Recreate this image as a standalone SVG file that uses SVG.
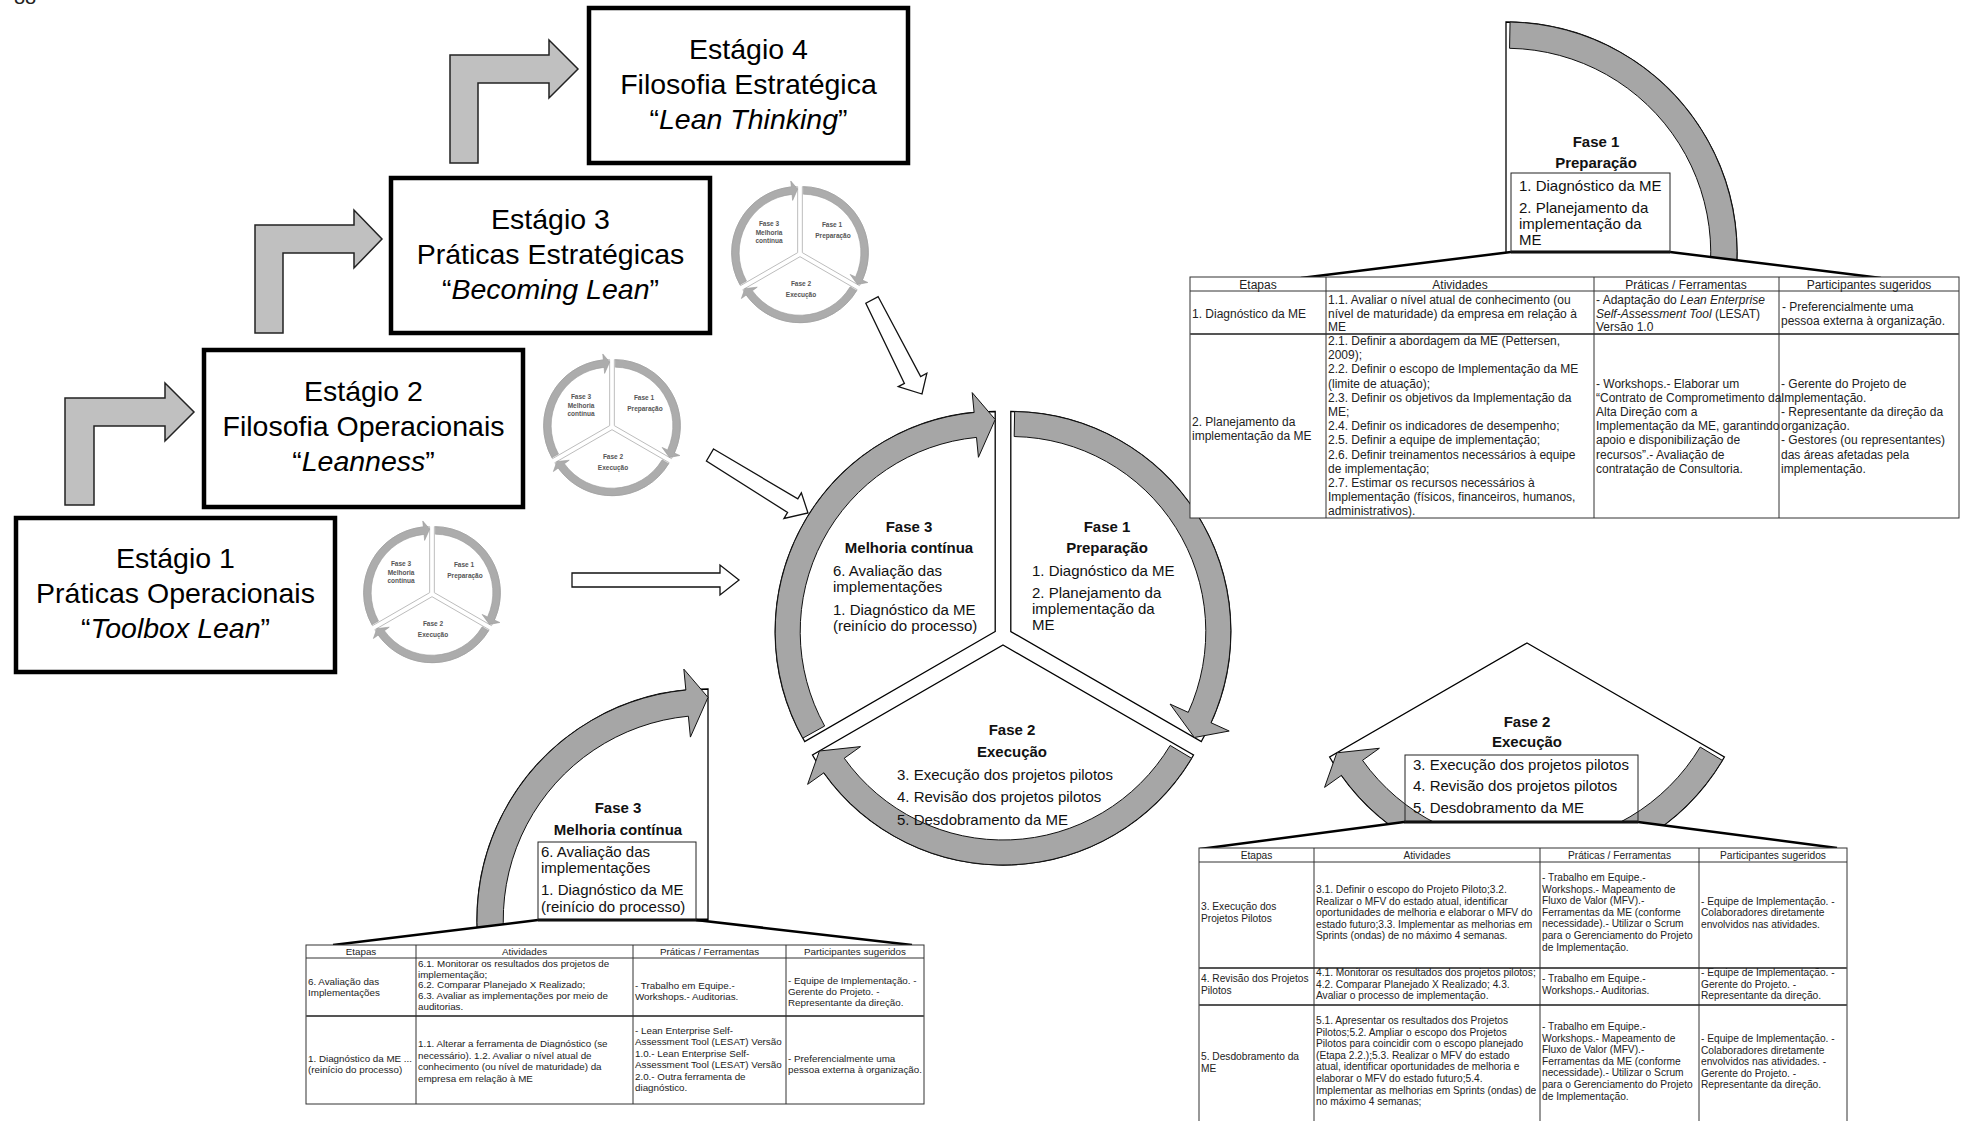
<svg xmlns="http://www.w3.org/2000/svg" xmlns:xlink="http://www.w3.org/1999/xlink" width="1966" height="1121" viewBox="0 0 1966 1121">
<style>
  text { font-family: "Liberation Sans", Arial, sans-serif; }
  .stg { fill: #fff; stroke: #000; stroke-width: 4.5; }
  .stgT { font-size: 28.5px; text-anchor: middle; fill: #000; }
  .bent { fill: #c0c0c0; stroke: #222; stroke-width: 1.5; stroke-linejoin: miter; }
  .hollow { fill: #fff; stroke: #111; stroke-width: 1.3; }
  .pie { fill: #fff; stroke: #000; stroke-width: 1.3; }
  .ring { fill: #a6a6a6; stroke: #111; stroke-width: 1; }
  .spie { fill: #fff; stroke: #bdbdbd; stroke-width: 1; }
  .sring { fill: #acacac; stroke: #9a9a9a; stroke-width: 0.6; }
  .ph { font-size: 15px; font-weight: bold; text-anchor: middle; fill: #111; }
  .pt { font-size: 15px; fill: #111; }
  .sm { font-size: 6.5px; font-weight: bold; text-anchor: middle; fill: #555; }
  .roof { fill: none; stroke: #000; stroke-width: 2.5; stroke-linejoin: round; }
  .rooft { fill: none; stroke: #000; stroke-width: 3.2; }
  .box { fill: none; stroke: #222; stroke-width: 1; }
  .tb { fill: #fff; stroke: #333; stroke-width: 1; }
  .tl { stroke: #333; stroke-width: 1; }
  .tlr { stroke: #555; stroke-width: 2; }
  .t1 { font-size: 12px; fill: #222; }
  .t2 { font-size: 10.2px; fill: #222; }
  .t3 { font-size: 9.8px; fill: #222; }
  .mid { text-anchor: middle; }
  .it { font-style: italic; }
</style>
<defs>
  <!-- cycle segments in vertex-local coordinates (outer radius 220, inner 195) -->
  <path id="pie1" vector-effect="non-scaling-stroke" d="M0,0 L0,-220 A220,220 0 0 1 190.53,110 Z"/>
  <path id="arr1" vector-effect="non-scaling-stroke" d="M3.84,-219.97 A220,220 0 0 1 200.19,91.23 L218.39,99.53 L183.6,106 L159.24,72.57 L177.44,80.87 A195,195 0 0 0 3.4,-194.97 Z"/>
  <path id="pie2" vector-effect="non-scaling-stroke" d="M0,0 L190.53,110 A220,220 0 0 1 -190.53,110 Z"/>
  <path id="arr2" vector-effect="non-scaling-stroke" d="M188.58,113.31 A220,220 0 0 1 -179.11,127.76 L-195.39,139.37 L-183.6,106 L-142.47,101.62 L-158.75,113.24 A195,195 0 0 0 167.15,100.43 Z"/>
  <path id="pie3" vector-effect="non-scaling-stroke" d="M0,0 L-190.53,110 A220,220 0 0 1 0,-220 Z"/>
  <path id="arr3" vector-effect="non-scaling-stroke" d="M-192.42,106.66 A220,220 0 0 1 -21.09,-218.99 L-23,-238.9 L0,-212 L-16.77,-174.19 L-18.69,-194.1 A195,195 0 0 0 -170.55,94.54 Z"/>
  <clipPath id="clipTR"><polygon points="1180,0 1966,0 1966,278 1881,278 1670,252 1511,252 1301,278 1180,278"/></clipPath>
  <clipPath id="clipBR"><polygon points="1150,600 1966,600 1966,848 1837,848 1638,822 1404,822 1200,849 1150,849"/></clipPath>
  <clipPath id="clipBL"><polygon points="300,640 960,640 960,945 912,945 696,920 538,920 333,945 300,945"/></clipPath>
</defs>

<!-- page number, mostly above the page edge -->
<text x="14" y="4" style="font-size:20px;fill:#222">88</text>

<!-- maturity stages -->
<g id="stage4">
  <rect class="stg" x="589" y="8" width="319" height="155"/>
  <text class="stgT" x="748.5" y="59">Estágio 4</text>
  <text class="stgT" x="748.5" y="94">Filosofia Estratégica</text>
  <text class="stgT" x="748.5" y="129">“<tspan class="it">Lean Thinking</tspan>”</text>
</g>
<g id="stage3">
  <rect class="stg" x="391" y="178" width="319" height="155"/>
  <text class="stgT" x="550.5" y="229">Estágio 3</text>
  <text class="stgT" x="550.5" y="264">Práticas Estratégicas</text>
  <text class="stgT" x="550.5" y="299">“<tspan class="it">Becoming Lean</tspan>”</text>
</g>
<g id="stage2">
  <rect class="stg" x="204" y="350" width="319" height="157"/>
  <text class="stgT" x="363.5" y="401">Estágio 2</text>
  <text class="stgT" x="363.5" y="436">Filosofia Operacionais</text>
  <text class="stgT" x="363.5" y="471">“<tspan class="it">Leanness</tspan>”</text>
</g>
<g id="stage1">
  <rect class="stg" x="16" y="518" width="319" height="154"/>
  <text class="stgT" x="175.5" y="568">Estágio 1</text>
  <text class="stgT" x="175.5" y="603">Práticas Operacionais</text>
  <text class="stgT" x="175.5" y="638">“<tspan class="it">Toolbox Lean</tspan>”</text>
</g>

<!-- small cycles next to each stage -->
<g id="cycleA">
  <g transform="translate(432,594) scale(0.3)">
    <g transform="translate(7.8,-4.5)"><use xlink:href="#pie1" class="spie"/><use xlink:href="#arr1" class="sring"/></g>
    <g transform="translate(0,9)"><use xlink:href="#pie2" class="spie"/><use xlink:href="#arr2" class="sring"/></g>
    <g transform="translate(-7.8,-4.5)"><use xlink:href="#pie3" class="spie"/><use xlink:href="#arr3" class="sring"/></g>
  </g>
  <text class="sm" x="401" y="566">Fase 3</text><text class="sm" x="401" y="575">Melhoria</text><text class="sm" x="401" y="583">contínua</text>
  <text class="sm" x="464" y="567">Fase 1</text><text class="sm" x="465" y="578">Preparação</text>
  <text class="sm" x="433" y="626">Fase 2</text><text class="sm" x="433" y="637">Execução</text>
</g>
<g id="cycleB">
  <g transform="translate(612,427) scale(0.3)">
    <g transform="translate(7.8,-4.5)"><use xlink:href="#pie1" class="spie"/><use xlink:href="#arr1" class="sring"/></g>
    <g transform="translate(0,9)"><use xlink:href="#pie2" class="spie"/><use xlink:href="#arr2" class="sring"/></g>
    <g transform="translate(-7.8,-4.5)"><use xlink:href="#pie3" class="spie"/><use xlink:href="#arr3" class="sring"/></g>
  </g>
  <text class="sm" x="581" y="399">Fase 3</text><text class="sm" x="581" y="408">Melhoria</text><text class="sm" x="581" y="416">contínua</text>
  <text class="sm" x="644" y="400">Fase 1</text><text class="sm" x="645" y="411">Preparação</text>
  <text class="sm" x="613" y="459">Fase 2</text><text class="sm" x="613" y="470">Execução</text>
</g>
<g id="cycleC">
  <g transform="translate(800,254) scale(0.3)">
    <g transform="translate(7.8,-4.5)"><use xlink:href="#pie1" class="spie"/><use xlink:href="#arr1" class="sring"/></g>
    <g transform="translate(0,9)"><use xlink:href="#pie2" class="spie"/><use xlink:href="#arr2" class="sring"/></g>
    <g transform="translate(-7.8,-4.5)"><use xlink:href="#pie3" class="spie"/><use xlink:href="#arr3" class="sring"/></g>
  </g>
  <text class="sm" x="769" y="226">Fase 3</text><text class="sm" x="769" y="235">Melhoria</text><text class="sm" x="769" y="243">contínua</text>
  <text class="sm" x="832" y="227">Fase 1</text><text class="sm" x="833" y="238">Preparação</text>
  <text class="sm" x="801" y="286">Fase 2</text><text class="sm" x="801" y="297">Execução</text>
</g>

<!-- main cycle -->
<g id="mainCycle">
  <g transform="translate(1010.8,631.5)"><use xlink:href="#pie1" class="pie"/><use xlink:href="#arr1" class="ring"/></g>
  <g transform="translate(1003,645)"><use xlink:href="#pie2" class="pie"/><use xlink:href="#arr2" class="ring"/></g>
  <g transform="translate(995.2,631.5)"><use xlink:href="#pie3" class="pie"/><use xlink:href="#arr3" class="ring"/></g>
  <text class="ph" x="909" y="532">Fase 3</text>
  <text class="ph" x="909" y="553">Melhoria contínua</text>
  <text class="pt"><tspan x="833" y="576">6. Avaliação das</tspan><tspan x="833" y="592">implementações</tspan><tspan x="833" y="615">1. Diagnóstico da ME</tspan><tspan x="833" y="631">(reinício do processo)</tspan></text>
  <text class="ph" x="1107" y="532">Fase 1</text>
  <text class="ph" x="1107" y="553">Preparação</text>
  <text class="pt"><tspan x="1032" y="576">1. Diagnóstico da ME</tspan><tspan x="1032" y="598">2. Planejamento da</tspan><tspan x="1032" y="614">implementação da</tspan><tspan x="1032" y="630">ME</tspan></text>
  <text class="ph" x="1012" y="735">Fase 2</text>
  <text class="ph" x="1012" y="757">Execução</text>
  <text class="pt"><tspan x="897" y="780">3. Execução dos projetos pilotos</tspan><tspan x="897" y="802">4. Revisão dos projetos pilotos</tspan><tspan x="897" y="825">5. Desdobramento da ME</tspan></text>
</g>

<!-- connectors -->
<g id="connectors">
  <polygon class="bent" points="450,163 450,55 549,55 549,40 578,69 549,98 549,83 478,83 478,163"/>
  <polygon class="bent" points="255,333 255,225 354,225 354,210 382,239 354,268 354,253 283,253 283,333"/>
  <polygon class="bent" points="65,505 65,398 165,398 165,383 194,412 165,441 165,426 94,426 94,505"/>
  <polygon class="hollow" points="572,573 720,573 720,565 739,580 720,595 720,587 572,587"/>
  <polygon class="hollow" points="713.56,448.98 797.8,498.84 801.36,492.82 808,513 783.99,518.48 787.57,512.43 706.44,461.02"/>
  <polygon class="hollow" points="878.18,296.71 920.67,376.59 926.85,373.3 922,394 898.26,386.64 904.42,383.36 865.82,303.29"/>
</g>

<!-- Fase 1 detail with its table -->
<g id="detailFase1">
  <g clip-path="url(#clipTR)">
    <g transform="translate(1506,253) scale(1.05)"><use xlink:href="#pie1" class="pie"/><use xlink:href="#arr1" class="ring"/></g>
  </g>
  <polyline class="roof" points="1301,278 1511,252"/>
  <polyline class="roof" points="1670,252 1881,278"/>
  <line class="rooft" x1="1511" y1="252" x2="1670" y2="252"/>
  <rect class="box" x="1511" y="173" width="159" height="79"/>
  <text class="ph" x="1596" y="147">Fase 1</text>
  <text class="ph" x="1596" y="168">Preparação</text>
  <text class="pt"><tspan x="1519" y="191">1. Diagnóstico da ME</tspan><tspan x="1519" y="213">2. Planejamento da</tspan><tspan x="1519" y="229">implementação da</tspan><tspan x="1519" y="245">ME</tspan></text>

  <rect class="tb" x="1190" y="277" width="769" height="241"/>
  <line class="tl" x1="1190" y1="291" x2="1959" y2="291"/>
  <line class="tlr" x1="1190" y1="334" x2="1959" y2="334"/>
  <line class="tl" x1="1326" y1="277" x2="1326" y2="518"/>
  <line class="tl" x1="1594" y1="277" x2="1594" y2="518"/>
  <line class="tl" x1="1779" y1="277" x2="1779" y2="518"/>
  <text class="t1 mid" x="1258" y="288.5">Etapas</text>
  <text class="t1 mid" x="1460" y="288.5">Atividades</text>
  <text class="t1 mid" x="1686" y="288.5">Práticas / Ferramentas</text>
  <text class="t1 mid" x="1869" y="288.5">Participantes sugeridos</text>
  <text class="t1" x="1192" y="318">1. Diagnóstico da ME</text>
  <text class="t1"><tspan x="1328" y="304">1.1. Avaliar o nível atual de conhecimento (ou</tspan><tspan x="1328" y="317.5">nível de maturidade) da empresa em relação à</tspan><tspan x="1328" y="331">ME</tspan></text>
  <text class="t1"><tspan x="1596" y="304">- Adaptação do <tspan class="it">Lean Enterprise</tspan></tspan><tspan x="1596" y="317.5"><tspan class="it">Self-Assessment Tool</tspan> (LESAT)</tspan><tspan x="1596" y="331">Versão 1.0</tspan></text>
  <text class="t1"><tspan x="1782" y="311">- Preferencialmente uma</tspan><tspan x="1781" y="324.5">pessoa externa à organização.</tspan></text>
  <text class="t1"><tspan x="1192" y="426">2. Planejamento da</tspan><tspan x="1192" y="440">implementação da ME</tspan></text>
  <text class="t1"><tspan x="1328" y="345">2.1. Definir a abordagem da ME (Pettersen,</tspan><tspan x="1328" y="359.2">2009);</tspan><tspan x="1328" y="373.4">2.2. Definir o escopo de Implementação da ME</tspan><tspan x="1328" y="387.6">(limite de atuação);</tspan><tspan x="1328" y="401.8">2.3. Definir os objetivos da Implementação da</tspan><tspan x="1328" y="416">ME;</tspan><tspan x="1328" y="430.2">2.4. Definir os indicadores de desempenho;</tspan><tspan x="1328" y="444.4">2.5. Definir a equipe de implementação;</tspan><tspan x="1328" y="458.6">2.6. Definir treinamentos necessários à equipe</tspan><tspan x="1328" y="472.8">de implementação;</tspan><tspan x="1328" y="487">2.7. Estimar os recursos necessários à</tspan><tspan x="1328" y="501.2">Implementação (físicos, financeiros, humanos,</tspan><tspan x="1328" y="515.4">administrativos).</tspan></text>
  <text class="t1"><tspan x="1596" y="387.6">- Workshops.- Elaborar um</tspan><tspan x="1596" y="401.8">“Contrato de Comprometimento da</tspan><tspan x="1596" y="416">Alta Direção com a</tspan><tspan x="1596" y="430.2">Implementação da ME, garantindo</tspan><tspan x="1596" y="444.4">apoio e disponibilização de</tspan><tspan x="1596" y="458.6">recursos”.- Avaliação de</tspan><tspan x="1596" y="472.8">contratação de Consultoria.</tspan></text>
  <text class="t1"><tspan x="1781" y="387.6">- Gerente do Projeto de</tspan><tspan x="1781" y="401.8">Implementação.</tspan><tspan x="1781" y="416">- Representante da direção da</tspan><tspan x="1781" y="430.2">organização.</tspan><tspan x="1781" y="444.4">- Gestores (ou representantes)</tspan><tspan x="1781" y="458.6">das áreas afetadas pela</tspan><tspan x="1781" y="472.8">implementação.</tspan></text>
</g>

<!-- Fase 2 detail with its table -->
<g id="detailFase2">
  <g clip-path="url(#clipBR)">
    <g transform="translate(1527,643) scale(1.036)"><use xlink:href="#pie2" class="pie"/><use xlink:href="#arr2" class="ring"/></g>
  </g>
  <polyline class="roof" points="1200,849 1404,822"/>
  <polyline class="roof" points="1638,822 1837,848"/>
  <line class="rooft" x1="1404" y1="822" x2="1638" y2="822"/>
  <rect class="box" x="1405" y="755" width="233" height="67"/>
  <text class="ph" x="1527" y="727">Fase 2</text>
  <text class="ph" x="1527" y="747">Execução</text>
  <text class="pt"><tspan x="1413" y="770">3. Execução dos projetos pilotos</tspan><tspan x="1413" y="791">4. Revisão dos projetos pilotos</tspan><tspan x="1413" y="813">5. Desdobramento da ME</tspan></text>

  <rect class="tb" x="1199" y="848" width="648" height="290"/>
  <line class="tl" x1="1199" y1="862" x2="1847" y2="862"/>
  <line class="tlr" x1="1199" y1="968" x2="1847" y2="968"/>
  <line class="tlr" x1="1199" y1="1005" x2="1847" y2="1005"/>
  <line class="tl" x1="1314" y1="848" x2="1314" y2="1121"/>
  <line class="tl" x1="1540" y1="848" x2="1540" y2="1121"/>
  <line class="tl" x1="1699" y1="848" x2="1699" y2="1121"/>
  <text class="t2 mid" x="1256.5" y="858.5">Etapas</text>
  <text class="t2 mid" x="1427" y="858.5">Atividades</text>
  <text class="t2 mid" x="1619.5" y="858.5">Práticas / Ferramentas</text>
  <text class="t2 mid" x="1773" y="858.5">Participantes sugeridos</text>
  <text class="t2"><tspan x="1201" y="910">3. Execução dos</tspan><tspan x="1201" y="921.6">Projetos Pilotos</tspan></text>
  <text class="t2"><tspan x="1316" y="893">3.1. Definir o escopo do Projeto Piloto;3.2.</tspan><tspan x="1316" y="904.6">Realizar o MFV do estado atual, identificar</tspan><tspan x="1316" y="916.2">oportunidades de melhoria e elaborar o MFV do</tspan><tspan x="1316" y="927.8">estado futuro;3.3. Implementar as melhorias em</tspan><tspan x="1316" y="939.4">Sprints (ondas) de no máximo 4 semanas.</tspan></text>
  <text class="t2"><tspan x="1542" y="881">- Trabalho em Equipe.-</tspan><tspan x="1542" y="892.6">Workshops.- Mapeamento de</tspan><tspan x="1542" y="904.2">Fluxo de Valor (MFV).-</tspan><tspan x="1542" y="915.8">Ferramentas da ME (conforme</tspan><tspan x="1542" y="927.4">necessidade).- Utilizar o Scrum</tspan><tspan x="1542" y="939">para o Gerenciamento do Projeto</tspan><tspan x="1542" y="950.6">de Implementação.</tspan></text>
  <text class="t2"><tspan x="1701" y="904.6">- Equipe de Implementação. -</tspan><tspan x="1701" y="916.2">Colaboradores diretamente</tspan><tspan x="1701" y="927.8">envolvidos nas atividades.</tspan></text>
  <text class="t2"><tspan x="1201" y="982">4. Revisão dos Projetos</tspan><tspan x="1201" y="993.6">Pilotos</tspan></text>
  <text class="t2"><tspan x="1316" y="976">4.1. Monitorar os resultados dos projetos pilotos;</tspan><tspan x="1316" y="987.6">4.2. Comparar Planejado X Realizado; 4.3.</tspan><tspan x="1316" y="999.2">Avaliar o processo de implementação.</tspan></text>
  <text class="t2"><tspan x="1542" y="982">- Trabalho em Equipe.-</tspan><tspan x="1542" y="993.6">Workshops.- Auditorias.</tspan></text>
  <text class="t2"><tspan x="1701" y="976">- Equipe de Implementação. -</tspan><tspan x="1701" y="987.6">Gerente do Projeto. -</tspan><tspan x="1701" y="999.2">Representante da direção.</tspan></text>
  <text class="t2"><tspan x="1201" y="1060">5. Desdobramento da</tspan><tspan x="1201" y="1071.6">ME</tspan></text>
  <text class="t2"><tspan x="1316" y="1024">5.1. Apresentar os resultados dos Projetos</tspan><tspan x="1316" y="1035.6">Pilotos;5.2. Ampliar o escopo dos Projetos</tspan><tspan x="1316" y="1047.2">Pilotos para coincidir com o escopo planejado</tspan><tspan x="1316" y="1058.8">(Etapa 2.2.);5.3. Realizar o MFV do estado</tspan><tspan x="1316" y="1070.4">atual, identificar oportunidades de melhoria e</tspan><tspan x="1316" y="1082">elaborar o MFV do estado futuro;5.4.</tspan><tspan x="1316" y="1093.6">Implementar as melhorias em Sprints (ondas) de</tspan><tspan x="1316" y="1105.2">no máximo 4 semanas;</tspan></text>
  <text class="t2"><tspan x="1542" y="1030">- Trabalho em Equipe.-</tspan><tspan x="1542" y="1041.6">Workshops.- Mapeamento de</tspan><tspan x="1542" y="1053.2">Fluxo de Valor (MFV).-</tspan><tspan x="1542" y="1064.8">Ferramentas da ME (conforme</tspan><tspan x="1542" y="1076.4">necessidade).- Utilizar o Scrum</tspan><tspan x="1542" y="1088">para o Gerenciamento do Projeto</tspan><tspan x="1542" y="1099.6">de Implementação.</tspan></text>
  <text class="t2"><tspan x="1701" y="1042">- Equipe de Implementação. -</tspan><tspan x="1701" y="1053.6">Colaboradores diretamente</tspan><tspan x="1701" y="1065.2">envolvidos nas atividades. -</tspan><tspan x="1701" y="1076.8">Gerente do Projeto. -</tspan><tspan x="1701" y="1088.4">Representante da direção.</tspan></text>
</g>

<!-- Fase 3 detail with its table -->
<g id="detailFase3">
  <g clip-path="url(#clipBL)">
    <g transform="translate(708,920) scale(1.05)"><use xlink:href="#pie3" class="pie"/><use xlink:href="#arr3" class="ring"/></g>
  </g>
  <polyline class="roof" points="333,945 538,920"/>
  <polyline class="roof" points="696,920 912,945"/>
  <line class="rooft" x1="538" y1="920" x2="708" y2="920"/>
  <rect class="box" x="538" y="842" width="158" height="78"/>
  <text class="ph" x="618" y="813">Fase 3</text>
  <text class="ph" x="618" y="835">Melhoria contínua</text>
  <text class="pt"><tspan x="541" y="857">6. Avaliação das</tspan><tspan x="541" y="873">implementações</tspan><tspan x="541" y="895">1. Diagnóstico da ME</tspan><tspan x="541" y="912">(reinício do processo)</tspan></text>

  <rect class="tb" x="306" y="945" width="618" height="159"/>
  <line class="tl" x1="306" y1="958" x2="924" y2="958"/>
  <line class="tlr" x1="306" y1="1016" x2="924" y2="1016"/>
  <line class="tl" x1="416" y1="945" x2="416" y2="1104"/>
  <line class="tl" x1="633" y1="945" x2="633" y2="1104"/>
  <line class="tl" x1="786" y1="945" x2="786" y2="1104"/>
  <text class="t3 mid" x="361" y="955">Etapas</text>
  <text class="t3 mid" x="524.5" y="955">Atividades</text>
  <text class="t3 mid" x="709.5" y="955">Práticas / Ferramentas</text>
  <text class="t3 mid" x="855" y="955">Participantes sugeridos</text>
  <text class="t3"><tspan x="308" y="985">6. Avaliação das</tspan><tspan x="308" y="996">Implementações</tspan></text>
  <text class="t3"><tspan x="418" y="967">6.1. Monitorar os resultados dos projetos de</tspan><tspan x="418" y="977.7">implementação;</tspan><tspan x="418" y="988.4">6.2. Comparar Planejado X Realizado;</tspan><tspan x="418" y="999.1">6.3. Avaliar as implementações por meio de</tspan><tspan x="418" y="1009.8">auditorias.</tspan></text>
  <text class="t3"><tspan x="635" y="989">- Trabalho em Equipe.-</tspan><tspan x="635" y="1000">Workshops.- Auditorias.</tspan></text>
  <text class="t3"><tspan x="788" y="984">- Equipe de Implementação. -</tspan><tspan x="788" y="995">Gerente do Projeto. -</tspan><tspan x="788" y="1006">Representante da direção.</tspan></text>
  <text class="t3"><tspan x="308" y="1062">1. Diagnóstico da ME ...</tspan><tspan x="308" y="1073">(reinício do processo)</tspan></text>
  <text class="t3"><tspan x="418" y="1047">1.1. Alterar a ferramenta de Diagnóstico (se</tspan><tspan x="418" y="1058.5">necessário). 1.2. Avaliar o nível atual de</tspan><tspan x="418" y="1070">conhecimento (ou nível de maturidade) da</tspan><tspan x="418" y="1081.5">empresa em relação à ME</tspan></text>
  <text class="t3"><tspan x="635" y="1034">- Lean Enterprise Self-</tspan><tspan x="635" y="1045.4">Assessment Tool (LESAT) Versão</tspan><tspan x="635" y="1056.8">1.0.- Lean Enterprise Self-</tspan><tspan x="635" y="1068.2">Assessment Tool (LESAT) Versão</tspan><tspan x="635" y="1079.6">2.0.- Outra ferramenta de</tspan><tspan x="635" y="1091">diagnóstico.</tspan></text>
  <text class="t3"><tspan x="788" y="1062">- Preferencialmente uma</tspan><tspan x="788" y="1073">pessoa externa à organização.</tspan></text>
</g>
</svg>
